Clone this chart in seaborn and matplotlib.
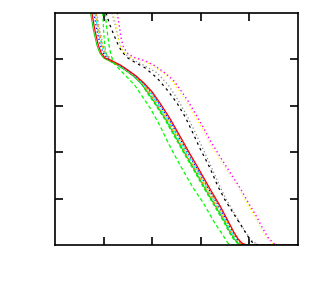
import matplotlib
matplotlib.use("Agg")
import matplotlib.pyplot as plt
import pandas as pd
import seaborn as sns

# y levels shared by the main bundle of curves
y_bundle = [5.0, 4.63, 4.31, 4.14, 4.03, 3.97, 3.88, 3.77, 3.64, 3.49, 3.30, 3.06,
            2.72, 2.35, 1.96, 1.60, 1.21, 0.84, 0.52, 0.28, 0.13, 0.04, 0.0, 0.0]

red_solid = [0.76, 0.82, 0.89, 0.95, 1.03, 1.17, 1.34, 1.50, 1.67, 1.83, 2.00, 2.16,
             2.37, 2.57, 2.78, 2.98, 3.19, 3.40, 3.56, 3.68, 3.77, 3.85, 3.95, 5.0]
green_solid = [0.73, 0.79, 0.86, 0.92, 1.00, 1.11, 1.28, 1.44, 1.61, 1.76, 1.90, 2.06,
               2.27, 2.47, 2.68, 2.88, 3.09, 3.30, 3.48, 3.60, 3.69, 3.77, 3.87, 5.0]
blue_dash = [0.80, 0.86, 0.93, 0.99, 1.07, 1.16, 1.33, 1.49, 1.66, 1.82, 1.97, 2.13,
             2.34, 2.54, 2.75, 2.95, 3.16, 3.37, 3.54, 3.66, 3.75, 3.83, 3.93, 5.0]
cyan_dashdot = [0.82, 0.88, 0.95, 1.01, 1.09, 1.14, 1.31, 1.47, 1.64, 1.80, 1.94, 2.10,
                2.31, 2.51, 2.72, 2.92, 3.13, 3.34, 3.51, 3.63, 3.72, 3.80, 3.90, 5.0]
orange_dash = [0.84, 0.90, 0.97, 1.03, 1.11, 1.13, 1.30, 1.46, 1.63, 1.79, 1.92, 2.08,
               2.29, 2.49, 2.70, 2.90, 3.11, 3.32, 3.50, 3.62, 3.71, 3.79, 3.89, 5.0]
gray_dot = [0.86, 0.92, 0.99, 1.05, 1.13, 1.17, 1.34, 1.50, 1.67, 1.83, 1.98, 2.14,
            2.35, 2.55, 2.76, 2.96, 3.17, 3.38, 3.56, 3.68, 3.77, 3.85, 3.95, 5.0]
yellow_dash = [0.83, 0.89, 0.96, 1.02, 1.10, 1.15, 1.32, 1.48, 1.65, 1.81, 1.95, 2.11,
               2.32, 2.52, 2.73, 2.93, 3.14, 3.35, 3.52, 3.64, 3.73, 3.81, 3.91, 5.0]
lime_dash = [0.98, 1.00, 1.02, 1.05, 1.10, 1.12, 1.29, 1.45, 1.62, 1.78, 1.88, 2.04,
             2.25, 2.45, 2.66, 2.86, 3.07, 3.28, 3.46, 3.58, 3.67, 3.75, 3.85, 5.0]

# curves that sit apart from the bundle
green_low_x = [1.03, 1.07, 1.11, 1.15, 1.21, 1.34, 1.50, 1.65, 1.79, 1.96, 2.16, 2.33,
               2.47, 2.63, 2.82, 3.05, 3.29, 3.44, 3.56, 3.64, 5.0]
green_low_y = [5.0, 4.63, 4.31, 4.10, 3.92, 3.77, 3.60, 3.43, 3.21, 2.95, 2.57, 2.20,
               1.92, 1.62, 1.27, 0.91, 0.47, 0.24, 0.04, 0.0, 0.0]

black_mid_x = [1.05, 1.13, 1.21, 1.30, 1.38, 1.50, 1.67, 1.85, 2.10, 2.31, 2.51, 2.68,
               2.84, 2.98, 3.19, 3.35, 3.50, 3.68, 3.85, 3.97, 4.05, 4.18, 5.0]
black_mid_y = [5.0, 4.74, 4.53, 4.31, 4.16, 4.03, 3.92, 3.82, 3.60, 3.34, 3.06, 2.76,
               2.41, 2.09, 1.66, 1.27, 0.97, 0.67, 0.39, 0.19, 0.07, 0.0, 0.0]

gray_mid_x = [1.17, 1.24, 1.30, 1.36, 1.46, 1.61, 1.85, 2.10, 2.33, 2.53, 2.72, 2.88,
              3.03, 3.21, 3.37, 3.52, 3.70, 3.87, 3.99, 4.07, 4.20, 5.0]
gray_mid_y = [5.0, 4.74, 4.46, 4.25, 4.10, 3.99, 3.86, 3.71, 3.45, 3.13, 2.78, 2.44,
              2.11, 1.70, 1.32, 0.99, 0.67, 0.37, 0.17, 0.07, 0.0, 0.0]

magenta_x = [1.28, 1.32, 1.36, 1.40, 1.48, 1.61, 1.85, 2.06, 2.26, 2.43, 2.57, 2.74,
             2.88, 3.05, 3.19, 3.40, 3.60, 3.81, 3.97, 4.14, 4.26, 4.38, 4.47, 4.55, 5.0]
magenta_y = [5.0, 4.74, 4.46, 4.29, 4.14, 4.05, 3.97, 3.86, 3.71, 3.56, 3.36, 3.10,
             2.85, 2.54, 2.26, 1.90, 1.57, 1.23, 0.93, 0.63, 0.39, 0.17, 0.07, 0.0, 0.0]

yellow_far_x = [1.22, 1.26, 1.30, 1.34, 1.43, 1.56, 1.81, 2.02, 2.23, 2.39, 2.53, 2.70,
                2.84, 3.01, 3.15, 3.36, 3.57, 3.78, 3.94, 4.10, 4.22, 4.35, 4.43, 4.51, 5.0]
yellow_far_y = magenta_y

ticks = [1, 2, 3, 4]

sns.set_style("ticks")
fig = plt.figure(figsize=(3.2, 2.88), dpi=100)
ax = fig.add_axes([0.172, 0.149, 0.759, 0.806])

curves = [
    (lime_dash, y_bundle, "#00ff00", (0, (3, 2)), 0.8),
    (yellow_dash, y_bundle, "#ffff00", (0, (3, 2)), 0.8),
    (gray_dot, y_bundle, "#999999", (0, (1, 2)), 0.9),
    (green_solid, y_bundle, "#00cc00", "-", 0.7),
    (orange_dash, y_bundle, "#ff8000", (0, (3, 2)), 0.8),
    (cyan_dashdot, y_bundle, "#00ffff", (0, (3, 1.5, 1, 1.5)), 0.8),
    (blue_dash, y_bundle, "#0000ff", (0, (1, 2)), 0.9),
    (red_solid, y_bundle, "#ff0000", "-", 0.9),
    (green_low_x, green_low_y, "#00ff00", (0, (3, 2)), 0.9),
    (gray_mid_x, gray_mid_y, "#888888", (0, (1, 2)), 0.9),
    (black_mid_x, black_mid_y, "#000000", (0, (2, 3)), 0.9),
    (yellow_far_x, yellow_far_y, "#ffff00", (0, (1, 2)), 0.9),
    (magenta_x, magenta_y, "#ff00ff", (0, (1, 2)), 1.0),
]

for xs, ys, col, ls, lw in curves:
    df = pd.DataFrame({"x": xs, "y": ys})
    sns.lineplot(data=df, x="x", y="y", sort=False, estimator=None,
                 color=col, linestyle=ls, linewidth=lw, ax=ax)

ax.set_xlim(0, 5)
ax.set_ylim(0, 5)
ax.set_xticks(ticks)
ax.set_yticks(ticks)
ax.set_xticklabels([])
ax.set_yticklabels([])
ax.set_xlabel("")
ax.set_ylabel("")
ax.tick_params(direction="in", length=6, width=1.2, top=True, right=True,
               color="black")
for s in ax.spines.values():
    s.set_visible(True)
    s.set_color("black")
    s.set_linewidth(1.2)

fig.savefig("out.png", dpi=100)
